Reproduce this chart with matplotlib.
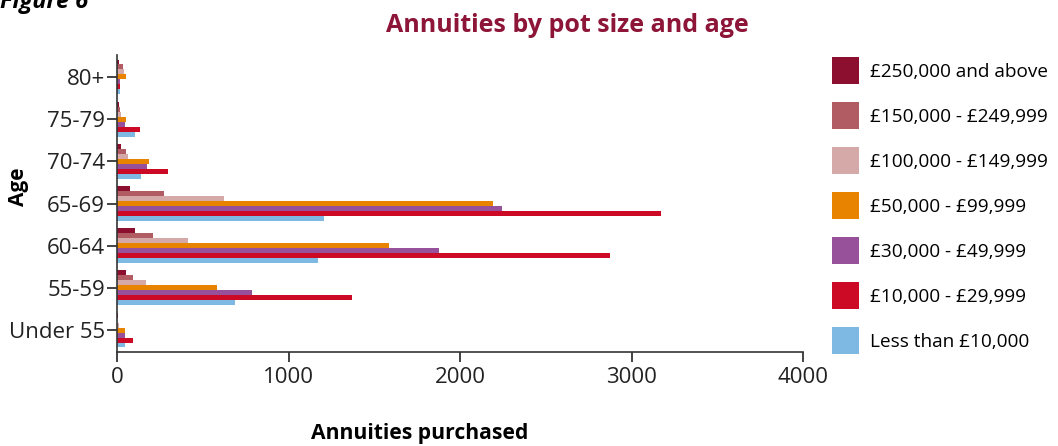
import matplotlib
matplotlib.use("Agg")
import matplotlib.pyplot as plt
import numpy as np

plt.rcParams['font.family'] = ['Open Sans', 'DejaVu Sans']

# Age bands, top to bottom as shown
ages = ["80+", "75-79", "70-74", "65-69", "60-64", "55-59", "Under 55"]

# Annuities purchased per pot size band, one value per age band (same order as ages)
pot_bands = [
    "£250,000 and above",
    "£150,000 - £249,999",
    "£100,000 - £149,999",
    "£50,000 - £99,999",
    "£30,000 - £49,999",
    "£10,000 - £29,999",
    "Less than £10,000",
]
over_250k = [12, 12, 23, 75, 104, 52, 4]
from_150k = [35, 17, 52, 273, 209, 93, 2]
from_100k = [41, 23, 64, 623, 415, 169, 10]
from_50k = [52, 52, 186, 2191, 1584, 583, 47]
from_30k = [16, 47, 175, 2242, 1875, 787, 45]
from_10k = [17, 134, 297, 3170, 2873, 1370, 93]
under_10k = [17, 105, 140, 1207, 1172, 688, 45]

series = [over_250k, from_150k, from_100k, from_50k, from_30k, from_10k, under_10k]
colors = ["#8c0f2f", "#b05c62", "#d6a9a9", "#e88300", "#96519a", "#cc0a26", "#7db9e3"]

W, H = 1058, 446
fig = plt.figure(figsize=(W / 100, H / 100), dpi=100)
ax = fig.add_axes([117 / W, 1 - 352 / H, (803 - 117) / W, (352 - 55) / H])

y = np.arange(len(ages))
bar_h = 0.118
for i, (vals, col, lab) in enumerate(zip(series, colors, pot_bands)):
    offset = (i - 3) * bar_h
    ax.barh(y + offset, vals, height=bar_h, color=col, label=lab)

ax.set_ylim(len(ages) - 0.48, -0.52)
ax.set_xlim(0, 4000)
ax.set_yticks(y)
ax.set_yticklabels(ages)
ax.set_xticks([0, 1000, 2000, 3000, 4000])

for side in ["top", "right"]:
    ax.spines[side].set_visible(False)
for side in ["left", "bottom"]:
    ax.spines[side].set_color("#333333")
    ax.spines[side].set_linewidth(1.2)
ax.tick_params(axis="both", labelsize=16, colors="#222222", width=1.2, length=7)
ax.tick_params(axis="y", pad=1.5)

# axis titles
fig.text(420 / W, 1 - 439 / H, "Annuities purchased", ha="center", va="baseline",
         fontsize=15.2, fontweight="bold")
fig.text(18.5 / W, 1 - 187 / H, "Age", ha="center", va="center", rotation=90,
         fontsize=15, fontweight="bold")

fig.text(567 / W, 1 - 32 / H, "Annuities by pot size and age", ha="center",
         va="baseline", fontsize=18, fontweight="bold", color="#8c1538")
fig.text(0.0, 1 - 8 / H, "Figure 6", ha="left", va="baseline",
         fontsize=17, fontweight="bold", fontstyle="italic")

fig.legend(loc="upper left", bbox_to_anchor=(815 / W, 1 - 40 / H), frameon=False,
           fontsize=13.7, handlelength=1.42, handleheight=1.8, labelspacing=0.95,
           handletextpad=0.55)

fig.savefig("out.png", dpi=100)
